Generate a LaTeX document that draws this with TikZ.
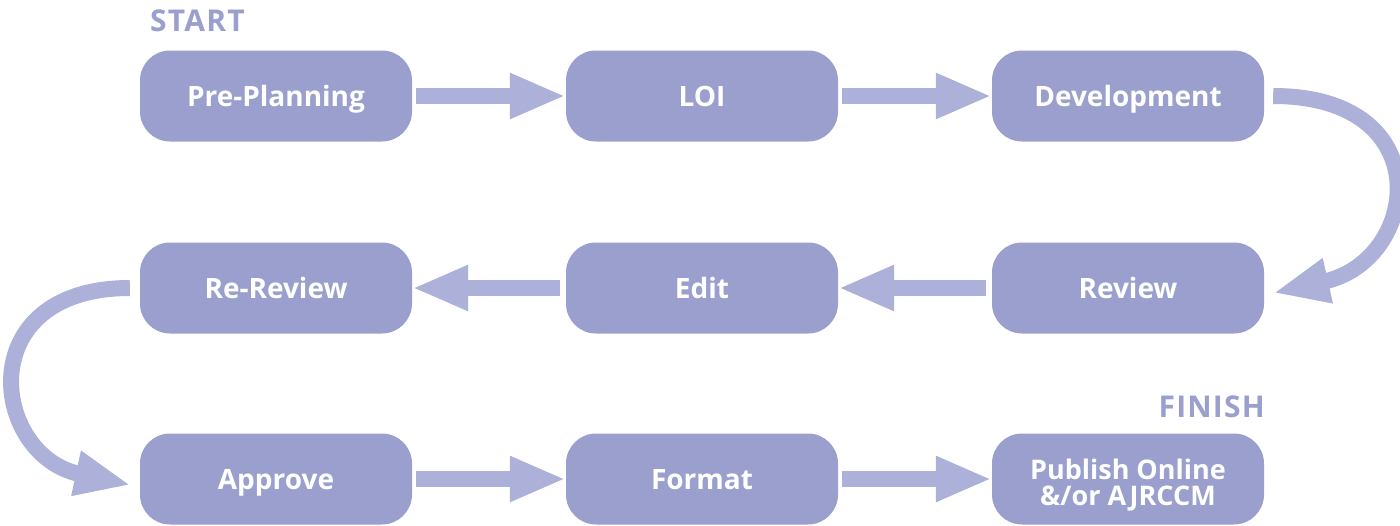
\documentclass[tikz,border=0pt]{standalone}
\usepackage{fontspec}
\setmainfont{Open Sans}
\usetikzlibrary{arrows.meta}
\definecolor{boxc}{HTML}{9A9FCE}
\definecolor{arrc}{HTML}{ADB1D9}
\tikzset{
  stepbox/.style={draw=none, fill=boxc, rounded corners=30pt, minimum width=272pt, minimum height=91pt,
    inner sep=0pt, text=white, font=\fontsize{28}{25}\selectfont\bfseries, align=center,
    text height=20pt, text depth=0pt},
  multibox/.style={stepbox, font=\fontsize{27}{26}\selectfont\bfseries, text height=52pt, text depth=0pt},
  bigarrow/.style={draw=arrc, line width=16pt, -{Triangle[length=56pt,width=42pt]}},
  endlabel/.style={text=boxc, font=\fontsize{30}{30}\selectfont\bfseries\addfontfeature{LetterSpace=4}, inner sep=0pt}
}
\begin{document}
\begin{tikzpicture}[x=1pt,y=-1pt]
\useasboundingbox (0,0) rectangle (1400,525);
\node[stepbox] (pre) at (276,96) {Pre-Planning};
\node[stepbox] (loi) at (702,96) {LOI};
\node[stepbox] (dev) at (1128,96) {Development};
\node[stepbox] (rerev) at (276,288) {Re-Review};
\node[stepbox] (edit) at (702,288) {Edit};
\node[stepbox] (rev) at (1128,288) {Review};
\node[stepbox] (appr) at (276,479) {Approve};
\node[stepbox] (fmt) at (702,479) {Format};
\node[multibox] (pub) at (1128,479) {Publish Online\\\&/or AJRCCM};
\node[endlabel, anchor=base west] (start) at (150,31) {START};
\node[endlabel, anchor=base east] (finish) at (1265,417) {FINISH};
\draw[bigarrow, shorten <=4pt] (pre.east) -- (loi.west);
\draw[bigarrow, shorten <=4pt] (loi.east) -- (dev.west);
\draw[bigarrow, shorten <=6pt] (rev.west) -- (edit.east);
\draw[bigarrow, shorten <=6pt] (edit.west) -- (rerev.east);
\draw[bigarrow, shorten <=4pt] (appr.east) -- (fmt.west);
\draw[bigarrow, shorten <=4pt] (fmt.east) -- (pub.west);
\draw[bigarrow] ([xshift=9pt]dev.east) .. controls +(167,0) and +(147,-33) .. ([xshift=9pt,yshift=-5pt]rev.east);
\draw[bigarrow] ([xshift=-10pt]rerev.west) .. controls +(-160,0) and +(-140,-30) .. ([xshift=-9pt,yshift=-6pt]appr.west);
\end{tikzpicture}
\end{document}
